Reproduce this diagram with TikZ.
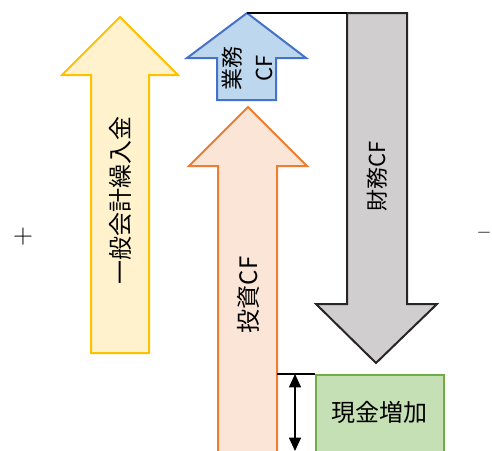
\documentclass[tikz,border=0pt]{standalone}
\usepackage{fontspec}
\setmainfont{Noto Sans CJK JP}
\usetikzlibrary{arrows.meta}
\definecolor{yfill}{HTML}{FFF2CC}
\definecolor{ydraw}{HTML}{FFC000}
\definecolor{bfill}{HTML}{BDD7EE}
\definecolor{bdraw}{HTML}{4472C4}
\definecolor{ofill}{HTML}{FBE5D6}
\definecolor{odraw}{HTML}{ED7D31}
\definecolor{gfill}{HTML}{D0CECE}
\definecolor{gdraw}{HTML}{262626}
\definecolor{grfill}{HTML}{C5E0B4}
\definecolor{grdraw}{HTML}{70AD47}
\tikzset{
  shp/.style={line width=1.5pt, line join=miter},
  lbl/.style={font=\fontsize{17.5pt}{19pt}\selectfont, inner sep=0pt},
  vlbl/.style={lbl, rotate=90}
}
\begin{document}
\begin{tikzpicture}[x=0.75pt,y=-0.75pt]
\useasboundingbox (0,0) rectangle (492,450);
% yellow up arrow
\draw[shp, draw=ydraw, fill=yfill] (91,353) -- (91,75) -- (62,75) -- (120,17) -- (178,75) -- (149,75) -- (149,353) -- cycle;
\node[vlbl, font=\fontsize{18pt}{20pt}\selectfont] (ippan) at (120,200) {一般会計繰入金};
% orange up arrow
\draw[shp, draw=odraw, fill=ofill] (218,460) -- (218,166) -- (189,166) -- (248,107) -- (307,166) -- (277,166) -- (277,460);
\node[vlbl, font=\fontsize{18pt}{20pt}\selectfont] (toshi) at (248,295) {投資CF};
% blue up arrow
\coordinate (btip) at (247,13);
\draw[shp, draw=bdraw, fill=bfill] (217,100) -- (217,58) -- (187,58) -- (btip) -- (306,58) -- (276,58) -- (276,100) -- cycle;
\node[vlbl, align=center, font=\fontsize{16.5pt}{24pt}\selectfont] (gyomu) at (247,68) {業務\\CF};
% gray down arrow
\coordinate (gtl) at (347,13);
\draw[shp, draw=gdraw, fill=gfill] (gtl) -- (407,13) -- (407,304) -- (437,304) -- (376,363) -- (316,304) -- (347,304) -- cycle;
\node[vlbl, font=\fontsize{16.5pt}{18pt}\selectfont] (zaimu) at (377,176) {財務CF};
\draw[line width=1pt, black] (btip) -- (gtl);
% green box
\node[shp, draw=grdraw, fill=grfill, minimum width=128*0.75pt, minimum height=90*0.75pt, anchor=north west, inner sep=0pt] (genkin) at (315,374) {};
\node[lbl, font=\fontsize{18pt}{20pt}\selectfont] (genkintxt) at (379,412) {現金増加};
% dimension
\coordinate (dtop) at (295,374);
\coordinate (dbot) at (295,451);
\coordinate (lleft) at (277,374);
\draw[line width=1pt] (lleft) -- (genkin.north west);
\draw[line width=0.8pt, {Triangle[width=9pt,length=10pt]}-{Triangle[width=9pt,length=10pt]}] (dtop) -- (dbot);
% signs
\node[inner sep=0pt] (plus) at (23,237) {\fontsize{22pt}{24pt}\selectfont$+$};
\node[inner sep=0pt] (minus) at (484,233) {\fontsize{15pt}{17pt}\selectfont$-$};
\end{tikzpicture}
\end{document}
